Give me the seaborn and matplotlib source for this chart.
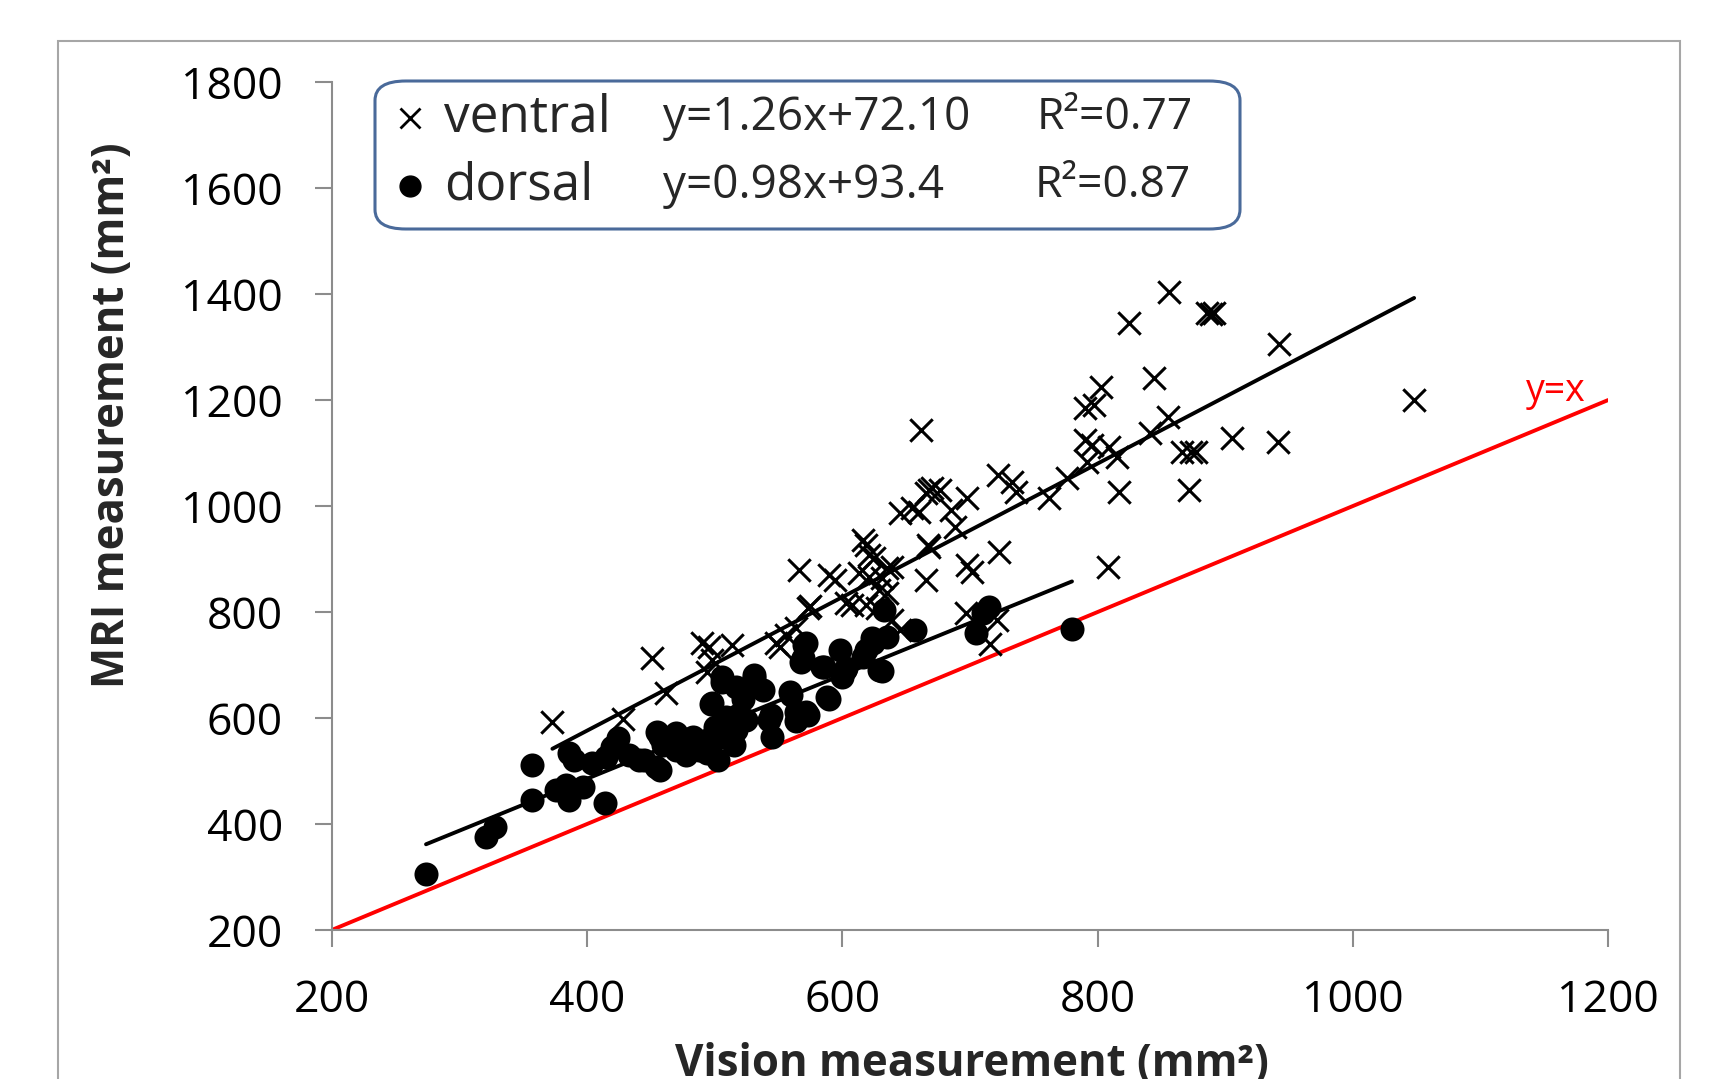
import matplotlib
matplotlib.use("Agg")
import matplotlib.pyplot as plt
from matplotlib.patches import FancyBboxPatch, Rectangle
from matplotlib.lines import Line2D
import seaborn as sns
import pandas as pd

# ventral (x markers)
ventral_x = [373, 428, 451, 462, 490, 496, 498, 494, 514, 548, 551, 564, 566, 573,
             590, 594, 603, 608, 616, 619, 621, 625, 613, 621, 635, 639, 631, 629,
             635, 619, 627, 639, 645, 645, 655, 660, 666, 670, 667, 666, 662, 668,
             677, 685, 698, 688, 668, 698, 702, 723, 722, 733, 736, 762, 776, 790,
             796, 790, 797, 803, 792, 809, 815, 817, 808, 697, 721, 716, 856, 825,
             886, 889, 891, 942, 844, 841, 855, 866, 873, 877, 905, 941, 872, 1048,
             556, 575]
ventral_y = [593, 598, 713, 647, 741, 734, 709, 687, 738, 741, 734, 770, 879, 807,
             870, 860, 817, 813, 936, 926, 907, 902, 874, 866, 883, 885, 864, 842,
             836, 813, 807, 785, 766, 987, 996, 989, 1025, 1034, 926, 860, 1143, 1030,
             1030, 992, 1015, 960, 923, 889, 875, 913, 1058, 1045, 1026, 1015, 1053, 1125,
             1115, 1185, 1191, 1225, 1083, 1111, 1092, 1026, 885, 798, 785, 740, 1404, 1345,
             1364, 1363, 1364, 1306, 1241, 1138, 1168, 1102, 1102, 1102, 1128, 1121, 1030, 1200,
             757, 812]

# dorsal (filled circles)
dorsal_x = [274, 321, 328, 357, 357, 376, 384, 386, 397, 386, 390, 414, 404, 415,
            420, 424, 441, 454, 455, 467, 457, 470, 483, 494, 457, 498, 509, 517,
            525, 506, 517, 531, 538, 543, 545, 559, 564, 572, 569, 572, 586, 588,
            598, 600, 616, 624, 629, 635, 506, 531, 570, 568, 584, 602, 623, 619,
            633, 657, 705, 710, 715, 780, 497, 508, 518, 522, 532, 544, 560, 564,
            573, 590, 603, 631, 475, 480, 488, 492, 500, 503, 510, 512, 515, 470,
            478, 485, 460, 445, 433, 500]
dorsal_y = [305, 375, 394, 511, 445, 464, 474, 445, 470, 534, 521, 440, 515, 526,
            545, 562, 521, 508, 574, 564, 564, 572, 564, 534, 502, 628, 602, 577,
            596, 668, 659, 675, 653, 596, 564, 649, 611, 611, 713, 741, 696, 640,
            728, 677, 715, 741, 690, 753, 677, 681, 737, 706, 696, 691, 751, 728,
            804, 766, 760, 798, 810, 768, 626, 595, 606, 636, 665, 606, 643, 595,
            606, 636, 694, 688, 545, 560, 540, 552, 560, 520, 580, 560, 550, 540,
            530, 555, 550, 520, 530, 583]

# fitted lines shown in the chart
ventral_fit = (1.26, 72.10)
dorsal_fit = (0.98, 93.4)
identity_x = [200, 1200]

sns.set_style("white")
plt.rcParams["font.family"] = ["Open Sans", "DejaVu Sans"]

fig = plt.figure(figsize=(17.09, 10.79), dpi=100)
ax = fig.add_axes([0.194, 0.138, 0.747, 0.786])

df_v = pd.DataFrame({"x": ventral_x, "y": ventral_y})
df_d = pd.DataFrame({"x": dorsal_x, "y": dorsal_y})

# y = x reference
sns.lineplot(x=identity_x, y=identity_x, ax=ax, color="#FF0000", linewidth=2.8, zorder=2)

# regression lines over data range
for df, (m, b) in [(df_v, ventral_fit), (df_d, dorsal_fit)]:
    xs = [df["x"].min(), df["x"].max()]
    ys = [m * v + b for v in xs]
    sns.lineplot(x=xs, y=ys, ax=ax, color="black", linewidth=2.8, zorder=3)

sns.scatterplot(data=df_d, x="x", y="y", ax=ax, marker="o", s=300,
                color="black", edgecolor="black", linewidth=0, zorder=4)
sns.scatterplot(data=df_v, x="x", y="y", ax=ax, marker="x", s=260,
                color="black", linewidth=2.2, zorder=5)

ax.set_xlim(200, 1200)
ax.set_ylim(200, 1800)
ax.set_xticks(range(200, 1201, 200))
ax.set_yticks(range(200, 1801, 200))
ax.set_xlabel("")
ax.set_ylabel("")
sns.despine(ax=ax)
for s in ["left", "bottom"]:
    ax.spines[s].set_color("#8C8C8C")
    ax.spines[s].set_linewidth(1.5)
ax.tick_params(axis="both", direction="out", length=12, width=1.5, color="#8C8C8C",
               labelsize=32, pad=23, labelcolor="black")
ax.tick_params(axis="both", which="both", bottom=True, left=True)

ax.text(1182, 1217, "y=x", color="#FF0000", fontsize=27, ha="right", va="center",
        transform=ax.transData)

# axis titles
fig.text(0.066, 0.615, "MRI measurement (mm²)", rotation=90, fontsize=31.5,
         fontweight="bold", ha="center", va="center")
fig.text(0.569, 0.034, "Vision measurement (mm²)", fontsize=31.5,
         fontweight="bold", ha="center", va="top")

# legend box
W, H = 1709, 1079
box = FancyBboxPatch((375 / W, 1 - 229 / H), (1240 - 375) / W, (229 - 81) / H,
                     boxstyle="round,pad=0,rounding_size=0.018",
                     transform=fig.transFigure, facecolor="white",
                     edgecolor="#4A6A9A", linewidth=2.2, zorder=10)
fig.add_artist(box)
fig.add_artist(Line2D([410 / W], [1 - 118 / H], marker="x", markersize=15,
                      markeredgewidth=2, color="black", transform=fig.transFigure, zorder=11))
fig.add_artist(Line2D([410 / W], [1 - 186 / H], marker="o", markersize=15,
                      color="black", transform=fig.transFigure, zorder=11))
rows = [(118, "ventral", "y=1.26x+72.10", "R²=0.77", 1037),
        (186, "dorsal", "y=0.98x+93.4", "R²=0.87", 1035)]
for yy, name, eq, r2, rx in rows:
    fig.text(444 / W, 1 - yy / H, name, fontsize=37, ha="left", va="center", zorder=11)
    fig.text(663 / W, 1 - yy / H, eq, fontsize=33, ha="left", va="center", zorder=11)
    fig.text(rx / W, 1 - yy / H, r2, fontsize=32, ha="left", va="center", zorder=11)

# outer chart frame
fig.add_artist(Rectangle((58 / W, -0.1), (1680 - 58) / W, 1.1 - 41 / H,
                         transform=fig.transFigure, fill=False,
                         edgecolor="#A6A6A6", linewidth=1.5))

fig.savefig("out.png", dpi=100)
